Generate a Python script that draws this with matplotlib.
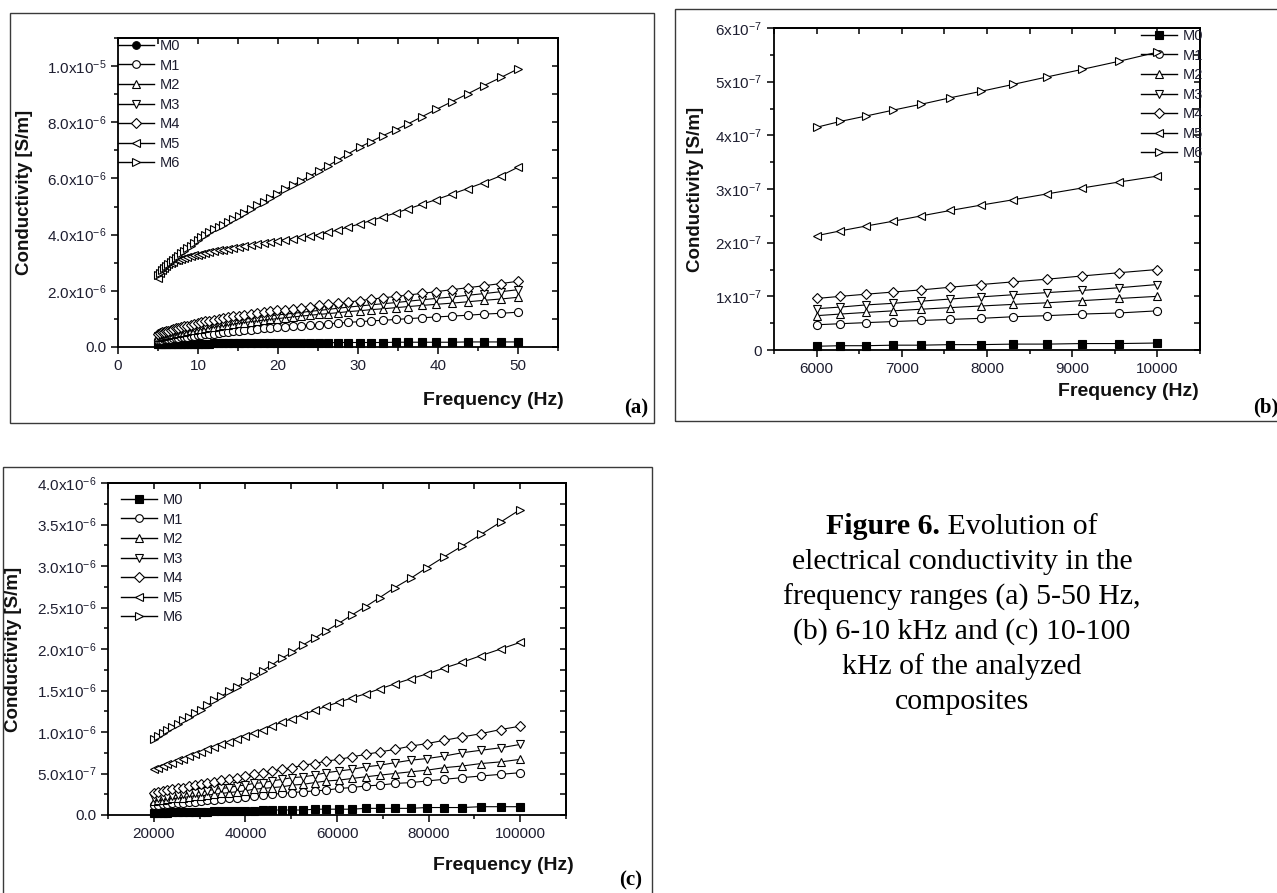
import matplotlib
matplotlib.use('Agg')
import matplotlib.pyplot as plt
from matplotlib.lines import Line2D
from matplotlib.patches import Rectangle
from matplotlib.ticker import MultipleLocator, FixedLocator, FixedFormatter

plt.rcParams['font.family'] = ['Liberation Sans', 'DejaVu Sans']
plt.rcParams['mathtext.fontset'] = 'custom'
plt.rcParams['mathtext.rm'] = 'Liberation Sans'
plt.rcParams['mathtext.it'] = 'Liberation Sans:italic'
plt.rcParams['mathtext.bf'] = 'Liberation Sans:bold'

# ---------------- data ----------------
names = ['M0', 'M1', 'M2', 'M3', 'M4', 'M5', 'M6']

# (a) 5-50 Hz, values in 1e-6 S/m
freq_a = [5.00, 5.24, 5.48, 5.74, 6.01, 6.29, 6.59, 6.90, 7.22, 7.56, 7.92, 8.29, 8.68,
          9.09, 9.52, 9.97, 10.4, 10.9, 11.4, 12.0, 12.6, 13.1, 13.8, 14.4, 15.1, 15.8,
          16.6, 17.4, 18.2, 19.0, 19.9, 20.9, 21.9, 22.9, 24.0, 25.1, 26.3, 27.5, 28.8,
          30.2, 31.6, 33.1, 34.7, 36.3, 38.0, 39.8, 41.7, 43.7, 45.7, 47.9, 50.0]
a_m0 = [0.10, 0.10, 0.10, 0.10, 0.10, 0.11, 0.11, 0.11, 0.11, 0.11, 0.11, 0.11, 0.12,
        0.12, 0.12, 0.12, 0.12, 0.12, 0.12, 0.13, 0.13, 0.13, 0.13, 0.13, 0.13, 0.14,
        0.14, 0.14, 0.14, 0.14, 0.14, 0.15, 0.15, 0.15, 0.15, 0.15, 0.15, 0.16, 0.16,
        0.16, 0.16, 0.16, 0.17, 0.17, 0.17, 0.17, 0.17, 0.18, 0.18, 0.18, 0.18]
a_m1 = [0.24, 0.25, 0.26, 0.27, 0.28, 0.29, 0.30, 0.31, 0.32, 0.33, 0.35, 0.36, 0.37,
        0.39, 0.40, 0.42, 0.43, 0.45, 0.46, 0.48, 0.50, 0.52, 0.54, 0.56, 0.58, 0.60,
        0.62, 0.64, 0.66, 0.68, 0.70, 0.72, 0.74, 0.76, 0.78, 0.80, 0.83, 0.85, 0.88,
        0.90, 0.93, 0.95, 0.98, 1.01, 1.04, 1.07, 1.10, 1.13, 1.17, 1.20, 1.24]
a_m2 = [0.35, 0.36, 0.38, 0.40, 0.41, 0.43, 0.45, 0.47, 0.49, 0.51, 0.53, 0.55, 0.57,
        0.59, 0.61, 0.63, 0.65, 0.67, 0.70, 0.72, 0.75, 0.77, 0.80, 0.82, 0.85, 0.87,
        0.90, 0.93, 0.96, 0.98, 1.01, 1.04, 1.07, 1.10, 1.13, 1.16, 1.19, 1.22, 1.26,
        1.29, 1.33, 1.36, 1.40, 1.44, 1.48, 1.52, 1.56, 1.61, 1.66, 1.71, 1.77]
a_m3 = [0.40, 0.42, 0.44, 0.46, 0.48, 0.50, 0.52, 0.54, 0.56, 0.58, 0.60, 0.62, 0.64,
        0.66, 0.69, 0.71, 0.74, 0.76, 0.79, 0.82, 0.85, 0.87, 0.90, 0.93, 0.96, 0.99,
        1.02, 1.05, 1.08, 1.11, 1.14, 1.17, 1.20, 1.23, 1.27, 1.30, 1.34, 1.38, 1.42,
        1.46, 1.50, 1.54, 1.58, 1.63, 1.68, 1.73, 1.78, 1.84, 1.90, 1.97, 2.04]
a_m4 = [0.48, 0.50, 0.52, 0.54, 0.56, 0.58, 0.61, 0.63, 0.66, 0.68, 0.71, 0.73, 0.76,
        0.79, 0.82, 0.85, 0.88, 0.91, 0.94, 0.97, 1.00, 1.03, 1.06, 1.09, 1.12, 1.15,
        1.18, 1.21, 1.24, 1.27, 1.30, 1.33, 1.36, 1.40, 1.44, 1.48, 1.52, 1.56, 1.60,
        1.65, 1.70, 1.75, 1.80, 1.85, 1.91, 1.97, 2.04, 2.11, 2.18, 2.26, 2.34]
a_m5 = [2.45, 2.62, 2.74, 2.83, 2.90, 2.95, 3.00, 3.04, 3.08, 3.11, 3.14, 3.17, 3.20,
        3.23, 3.26, 3.29, 3.32, 3.35, 3.38, 3.41, 3.44, 3.47, 3.50, 3.53, 3.56, 3.59,
        3.62, 3.66, 3.70, 3.74, 3.78, 3.82, 3.86, 3.90, 3.95, 4.00, 4.08, 4.17, 4.27,
        4.38, 4.50, 4.63, 4.77, 4.92, 5.08, 5.25, 5.44, 5.64, 5.85, 6.10, 6.40]
a_m6 = [2.55, 2.65, 2.74, 2.82, 2.90, 2.97, 3.04, 3.11, 3.18, 3.25, 3.33, 3.42, 3.51,
        3.61, 3.71, 3.81, 3.90, 4.00, 4.09, 4.19, 4.28, 4.36, 4.46, 4.55, 4.66, 4.78,
        4.91, 5.04, 5.17, 5.30, 5.45, 5.61, 5.76, 5.92, 6.09, 6.26, 6.46, 6.66, 6.88,
        7.11, 7.31, 7.52, 7.73, 7.95, 8.20, 8.46, 8.73, 9.01, 9.30, 9.60, 9.90]

# (b) 6-10 kHz, values in 1e-7 S/m
freq_b = [6000, 6280, 6580, 6900, 7230, 7570, 7930, 8310, 8710, 9120, 9550, 10000]
b_m0 = [0.07, 0.08, 0.08, 0.09, 0.09, 0.10, 0.10, 0.11, 0.11, 0.12, 0.12, 0.13]
b_m1 = [0.47, 0.49, 0.51, 0.53, 0.55, 0.57, 0.59, 0.62, 0.64, 0.67, 0.69, 0.73]
b_m2 = [0.64, 0.67, 0.70, 0.73, 0.76, 0.79, 0.82, 0.85, 0.88, 0.92, 0.96, 1.00]
b_m3 = [0.77, 0.80, 0.84, 0.87, 0.91, 0.95, 0.99, 1.03, 1.07, 1.11, 1.16, 1.22]
b_m4 = [0.96, 1.00, 1.04, 1.08, 1.12, 1.17, 1.22, 1.27, 1.32, 1.38, 1.44, 1.50]
b_m5 = [2.13, 2.22, 2.31, 2.40, 2.50, 2.60, 2.70, 2.80, 2.91, 3.02, 3.13, 3.24]
b_m6 = [4.15, 4.26, 4.36, 4.47, 4.58, 4.70, 4.82, 4.95, 5.09, 5.23, 5.38, 5.55]

# (c) 20-100 kHz, values in 1e-6 S/m
freq_c = [20000, 20940, 21930, 22960, 24040, 25180, 26360, 27600, 28900, 30270, 31700,
          33190, 34750, 36390, 38110, 39900, 41780, 43750, 45820, 47980, 50240, 52610,
          55090, 57680, 60400, 63250, 66230, 69350, 72620, 76050, 79630, 83380, 87310,
          91430, 95740, 100000]
c_m0 = [0.03, 0.03, 0.03, 0.03, 0.04, 0.04, 0.04, 0.04, 0.04, 0.04, 0.04, 0.05, 0.05,
        0.05, 0.05, 0.05, 0.05, 0.06, 0.06, 0.06, 0.06, 0.06, 0.07, 0.07, 0.07, 0.07,
        0.08, 0.08, 0.08, 0.08, 0.09, 0.09, 0.09, 0.10, 0.10, 0.10]
c_m1 = [0.12, 0.12, 0.13, 0.13, 0.14, 0.14, 0.15, 0.16, 0.16, 0.17, 0.18, 0.18, 0.19,
        0.20, 0.21, 0.22, 0.23, 0.24, 0.25, 0.26, 0.27, 0.28, 0.29, 0.30, 0.32, 0.33,
        0.35, 0.36, 0.38, 0.39, 0.41, 0.43, 0.45, 0.47, 0.49, 0.51]
c_m2 = [0.17, 0.18, 0.18, 0.19, 0.20, 0.20, 0.21, 0.22, 0.23, 0.23, 0.24, 0.25, 0.26,
        0.27, 0.28, 0.29, 0.31, 0.32, 0.33, 0.34, 0.36, 0.37, 0.39, 0.41, 0.42, 0.44,
        0.46, 0.48, 0.50, 0.52, 0.54, 0.57, 0.59, 0.62, 0.64, 0.67]
c_m3 = [0.20, 0.21, 0.22, 0.22, 0.23, 0.24, 0.25, 0.26, 0.27, 0.28, 0.29, 0.31, 0.32,
        0.33, 0.35, 0.36, 0.38, 0.39, 0.41, 0.43, 0.45, 0.46, 0.48, 0.51, 0.53, 0.55,
        0.58, 0.60, 0.63, 0.66, 0.68, 0.71, 0.75, 0.78, 0.81, 0.85]
c_m4 = [0.27, 0.28, 0.29, 0.30, 0.31, 0.32, 0.33, 0.35, 0.36, 0.37, 0.39, 0.40, 0.42,
        0.43, 0.45, 0.47, 0.49, 0.51, 0.53, 0.55, 0.57, 0.60, 0.62, 0.65, 0.67, 0.70,
        0.73, 0.76, 0.79, 0.83, 0.86, 0.90, 0.94, 0.98, 1.03, 1.07]
c_m5 = [0.55, 0.57, 0.59, 0.61, 0.63, 0.66, 0.68, 0.71, 0.73, 0.76, 0.79, 0.82, 0.85,
        0.88, 0.92, 0.95, 0.99, 1.03, 1.07, 1.12, 1.16, 1.21, 1.26, 1.31, 1.36, 1.41,
        1.46, 1.52, 1.58, 1.64, 1.70, 1.77, 1.84, 1.92, 2.00, 2.08]
c_m6 = [0.92, 0.95, 0.99, 1.02, 1.06, 1.10, 1.14, 1.18, 1.23, 1.27, 1.32, 1.38, 1.43,
        1.49, 1.54, 1.61, 1.67, 1.74, 1.81, 1.89, 1.96, 2.05, 2.13, 2.22, 2.31, 2.41,
        2.51, 2.62, 2.74, 2.85, 2.98, 3.11, 3.24, 3.38, 3.53, 3.68]

ytick_a = [0, 2e-6, 4e-6, 6e-6, 8e-6, 1e-5]
ylab_a = ['0.0', r'2.0x10$^{-6}$', r'4.0x10$^{-6}$', r'6.0x10$^{-6}$', r'8.0x10$^{-6}$', r'1.0x10$^{-5}$']
ytick_b = [0, 1e-7, 2e-7, 3e-7, 4e-7, 5e-7, 6e-7]
ylab_b = ['0', r'1x10$^{-7}$', r'2x10$^{-7}$', r'3x10$^{-7}$', r'4x10$^{-7}$', r'5x10$^{-7}$', r'6x10$^{-7}$']
ytick_c = [0, 0.5e-6, 1e-6, 1.5e-6, 2e-6, 2.5e-6, 3e-6, 3.5e-6, 4e-6]
ylab_c = ['0.0', r'5.0x10$^{-7}$', r'1.0x10$^{-6}$', r'1.5x10$^{-6}$', r'2.0x10$^{-6}$',
          r'2.5x10$^{-6}$', r'3.0x10$^{-6}$', r'3.5x10$^{-6}$', r'4.0x10$^{-6}$']

caption = ['electrical conductivity in the', 'frequency ranges (a) 5-50 Hz,',
           '(b) 6-10 kHz and (c) 10-100', 'kHz of the analyzed', 'composites']

# ---------------- drawing ----------------
W, H = 1277, 893
TXT = '#1e1e30'
markers = ['s', 'o', '^', 'v', 'D', '<', '>']

fig = plt.figure(figsize=(W / 100, H / 100), dpi=100)


def fx(x):
    return x / W


def fy(y):
    return 1 - y / H


def rect(x0, y0, x1, y1):
    return [fx(x0), fy(y1), (x1 - x0) / W, (y1 - y0) / H]


def PlotPanel(pos, freq, series, scale, xlim, ylim, xmaj, xmin, yticks, ylabels, ymin):
    ax = fig.add_axes(rect(*pos))
    for i, vals in enumerate(series):
        fc = 'black' if i == 0 else 'white'
        ms = 5.0 if markers[i] == 'D' else 5.8
        ax.plot(freq, [v * scale for v in vals], color='black', lw=0.8, marker=markers[i],
                ms=ms, mfc=fc, mec='black', mew=0.8, clip_on=False, zorder=3 + i)
    ax.set_xlim(*xlim)
    ax.set_ylim(*ylim)
    ax.xaxis.set_major_locator(MultipleLocator(xmaj))
    ax.xaxis.set_minor_locator(MultipleLocator(xmin))
    ax.ticklabel_format(axis='x', style='plain', useOffset=False)
    ax.yaxis.set_major_locator(FixedLocator(yticks))
    ax.yaxis.set_major_formatter(FixedFormatter(ylabels))
    ax.yaxis.set_minor_locator(MultipleLocator(ymin))
    ax.tick_params(which='both', direction='out', top=False, right=False,
                   labelsize=11, labelcolor=TXT, width=1.1)
    ax.tick_params(which='major', length=5)
    ax.tick_params(which='minor', length=3)
    for s in ax.spines.values():
        s.set_linewidth(1.3)
    # mirrored ticks pointing inward on top and right
    sx = ax.secondary_xaxis('top')
    sx.xaxis.set_major_locator(MultipleLocator(xmaj))
    sx.xaxis.set_minor_locator(MultipleLocator(xmin))
    sx.tick_params(which='both', direction='in', labeltop=False, width=1.1, length=4)
    sx.spines['top'].set_linewidth(1.3)
    sy = ax.secondary_yaxis('right')
    sy.yaxis.set_major_locator(FixedLocator(yticks))
    sy.yaxis.set_minor_locator(MultipleLocator(ymin))
    sy.tick_params(which='both', direction='in', labelright=False, width=1.1, length=4)
    sy.spines['right'].set_linewidth(1.3)
    return ax


def PlotLegend(ax, m0_marker, loc, anchor):
    handles = []
    for i, n in enumerate(names):
        m = m0_marker if i == 0 else markers[i]
        fc = 'black' if i == 0 else 'white'
        handles.append(Line2D([], [], color='black', lw=1.0, marker=m, ms=5.5 if m != 'D' else 4.8,
                              mfc=fc, mec='black', mew=0.8, label=n))
    ax.legend(handles=handles, loc=loc, bbox_to_anchor=(fx(anchor[0]), fy(anchor[1])),
              bbox_transform=fig.transFigure, frameon=False, fontsize=10.5, labelcolor=TXT,
              handlelength=2.5, handletextpad=0.35, labelspacing=0.38, borderpad=0,
              borderaxespad=0)


def Box(x0, y0, x1, y1):
    fig.add_artist(Rectangle((fx(x0), fy(y1)), (x1 - x0) / W, (y1 - y0) / H, fill=False,
                             ec='#3a3a3a', lw=1.0, transform=fig.transFigure, clip_on=False))


def Labels(ylab_xy, xlab_xy, tag, tag_xy):
    fig.text(fx(ylab_xy[0]), fy(ylab_xy[1]), 'Conductivity [S/m]', rotation=90, weight='bold',
             fontsize=13.5, ha='center', va='center', color='#111111')
    fig.text(fx(xlab_xy[0]), fy(xlab_xy[1]), 'Frequency (Hz)', weight='bold', fontsize=14,
             ha='center', va='center', color='#111111')
    fig.text(fx(tag_xy[0]), fy(tag_xy[1]), tag, family='Liberation Serif', weight='bold',
             fontsize=15, ha='center', va='center', color='black')


# panel (a)
Box(10, 13, 654, 423)
ax_a = PlotPanel((118, 38, 558, 347), freq_a, [a_m0, a_m1, a_m2, a_m3, a_m4, a_m5, a_m6], 1e-6,
                 (0, 55), (0, 1.1e-5), 10, 5, ytick_a, ylab_a, 1e-6)
PlotLegend(ax_a, 'o', 'upper left', (118, 39))
Labels((25, 192), (493, 401), '(a)', (636, 408))

# panel (b)
Box(675, 9, 1290, 421)
ax_b = PlotPanel((774, 28, 1200, 350), freq_b, [b_m0, b_m1, b_m2, b_m3, b_m4, b_m5, b_m6], 1e-7,
                 (5500, 10500), (0, 6e-7), 1000, 500, ytick_b, ylab_b, 0.5e-7)
PlotLegend(ax_b, 's', 'upper right', (1203, 29))
Labels((695, 189), (1128, 392), '(b)', (1266, 407))

# panel (c)
Box(3, 467, 652, 905)
ax_c = PlotPanel((108, 483, 566, 815), freq_c, [c_m0, c_m1, c_m2, c_m3, c_m4, c_m5, c_m6], 1e-6,
                 (10000, 110000), (0, 4e-6), 20000, 10000, ytick_c, ylab_c, 0.25e-6)
PlotLegend(ax_c, 's', 'upper left', (121, 493))
Labels((14, 649), (503, 865), '(c)', (631, 880))

# caption
cx = 962
r = fig.canvas.get_renderer()
t1 = fig.text(0, fy(527), 'Figure 6.', family='Liberation Serif', weight='bold', fontsize=21.5,
              ha='left', va='center')
t2 = fig.text(0, fy(527), ' Evolution of', family='Liberation Serif', fontsize=21.5,
              ha='left', va='center')
w1 = t1.get_window_extent(r).width
w2 = t2.get_window_extent(r).width
x0 = cx - (w1 + w2) / 2
t1.set_x(fx(x0))
t2.set_x(fx(x0 + w1))
for k, line in enumerate(caption):
    fig.text(fx(cx), fy(562 + 35 * k), line, family='Liberation Serif', fontsize=21.5,
             ha='center', va='center')

plt.savefig('out.png', dpi=100)
